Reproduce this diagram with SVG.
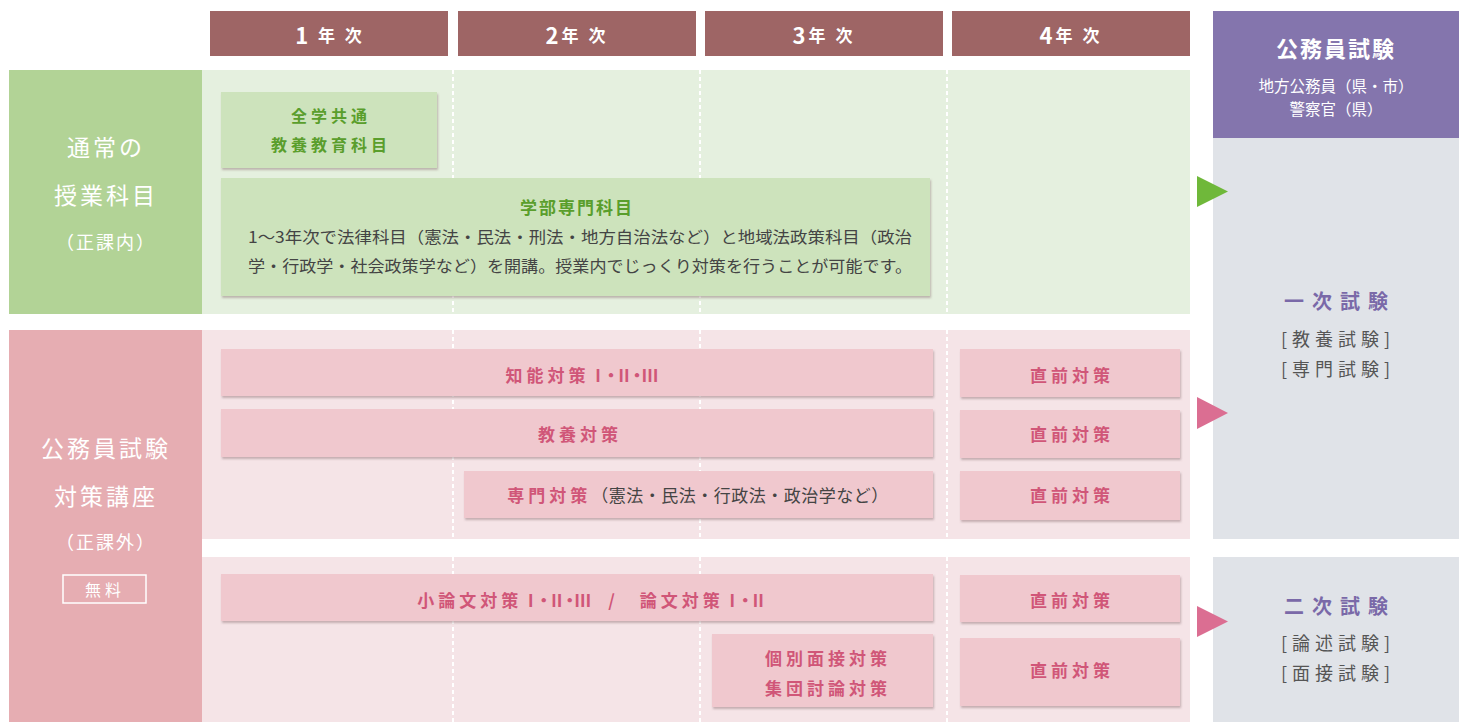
<svg xmlns="http://www.w3.org/2000/svg" width="1459" height="722" viewBox="0 0 1459 722">
<defs>
<style>
text{font-family:"Noto Sans CJK JP","Noto Sans",sans-serif;text-anchor:middle;dominant-baseline:central}
.tab{fill:#9e6565}
.tabt{fill:#fff;font-weight:700;font-size:17px;letter-spacing:3px}
.tabt .d{font-size:22px}
.lbl{fill:#fff;font-size:23px;letter-spacing:3px}
.lbls{fill:#fff;font-size:18px;letter-spacing:2px}
.gbox{fill:#cde3bc;filter:url(#sh)}
.gt{fill:#5a9e2c;font-weight:700;font-size:16px;letter-spacing:4px}
.pbox{fill:#f0c8ce;filter:url(#sh)}
.pt{fill:#d05678;font-weight:700;font-size:17px;letter-spacing:4px}
.rn{letter-spacing:-4px}
.body{fill:#444;font-size:16px}
.dash{stroke:#fff;stroke-width:2;stroke-dasharray:4 3;fill:none}
.ex{fill:#7a69a8;font-weight:700;font-size:20px;letter-spacing:8px}
.exs{fill:#555;font-size:18px;letter-spacing:5px}
</style>
<filter id="sh" x="-5%" y="-20%" width="110%" height="150%">
<feDropShadow dx="1" dy="2" stdDeviation="1.2" flood-color="#8a6a70" flood-opacity="0.45"/>
</filter>
</defs>
<rect width="1459" height="722" fill="#fff"/>

<g id="headers">
<rect class="tab" x="210" y="11" width="238" height="45"/>
<rect class="tab" x="458" y="11" width="238" height="45"/>
<rect class="tab" x="705" y="11" width="238" height="45"/>
<rect class="tab" x="952" y="11" width="238" height="45"/>
<text class="tabt" x="330" y="34"><tspan class="d">1</tspan> 年 次</text>
<text class="tabt" x="577" y="34"><tspan class="d">2</tspan>年 次</text>
<text class="tabt" x="824" y="34"><tspan class="d">3</tspan>年 次</text>
<text class="tabt" x="1071" y="34"><tspan class="d">4</tspan>年 次</text>
</g>

<g id="regular-band">
<rect x="202" y="70" width="988" height="244" fill="#e5f0df"/>
<rect x="9" y="70" width="193" height="244" fill="#b2d396"/>
<text class="lbl" x="106" y="146">通常の</text>
<text class="lbl" x="106" y="194">授業科目</text>
<text class="lbls" x="106" y="241">（正課内）</text>
</g>

<g id="prep-band">
<rect x="202" y="330" width="988" height="209" fill="#f5e4e7"/>
<rect x="202" y="557" width="988" height="165" fill="#f5e4e7"/>
<rect x="9" y="330" width="193" height="392" fill="#e6adb2"/>
<text class="lbl" x="106" y="447">公務員試験</text>
<text class="lbl" x="106" y="495">対策講座</text>
<text class="lbls" x="106" y="541">（正課外）</text>
<rect x="63" y="575" width="83" height="28" fill="none" stroke="#fff" stroke-width="1.5"/>
<text x="105" y="589" fill="#fff" font-size="16" letter-spacing="4">無料</text>
</g>

<g id="dividers">
<path class="dash" d="M453 70V314M700 70V314M947 70V314M453 330V539M700 330V539M947 330V539M453 557V722M700 557V722M947 557V722"/>
</g>

<g id="general-ed">
<rect class="gbox" x="221" y="92" width="216" height="76"/>
<text class="gt" x="331" y="115">全学共通</text>
<text class="gt" x="331" y="144">教養教育科目</text>
</g>

<g id="faculty">
<rect class="gbox" x="221" y="178" width="709" height="118"/>
<text x="577" y="206" fill="#5a9e2c" font-weight="700" font-size="17" letter-spacing="2">学部専門科目</text>
<text class="body" x="580" y="236" textLength="664" lengthAdjust="spacingAndGlyphs">1～3年次で法律科目（憲法・民法・刑法・地方自治法など）と地域法政策科目（政治</text>
<text class="body" x="580" y="265" textLength="664" lengthAdjust="spacingAndGlyphs">学・行政学・社会政策学など）を開講。授業内でじっくり対策を行うことが可能です。</text>
</g>

<g id="chino">
<rect class="pbox" x="221" y="349" width="712" height="47"/>
<text class="pt" x="580" y="374">知能対策<tspan class="rn">Ⅰ・Ⅱ・Ⅲ</tspan></text>
</g>
<g id="kyoyo">
<rect class="pbox" x="221" y="409" width="712" height="48"/>
<text class="pt" x="580" y="433">教養対策</text>
</g>
<g id="senmon">
<rect class="pbox" x="464" y="471" width="469" height="47"/>
<text x="698" y="494" font-size="17"><tspan fill="#d05678" font-weight="700" letter-spacing="4">専門対策</tspan><tspan fill="#444" letter-spacing="0.5">（憲法・民法・行政法・政治学など）</tspan></text>
</g>
<g id="ronbun">
<rect class="pbox" x="221" y="574" width="712" height="47"/>
<text class="pt" x="590" y="599">小論文対策<tspan class="rn">Ⅰ・Ⅱ・Ⅲ</tspan>　/　論文対策<tspan class="rn">Ⅰ・Ⅱ</tspan></text>
</g>
<g id="mensetsu">
<rect class="pbox" x="712" y="634" width="221" height="73"/>
<text class="pt" x="828" y="657">個別面接対策</text>
<text class="pt" x="828" y="687">集団討論対策</text>
</g>

<g id="chokuzen">
<rect class="pbox" x="960" y="349" width="220" height="48"/>
<text class="pt" x="1072" y="374">直前対策</text>
<rect class="pbox" x="960" y="410" width="220" height="48"/>
<text class="pt" x="1072" y="433">直前対策</text>
<rect class="pbox" x="960" y="471" width="220" height="49"/>
<text class="pt" x="1072" y="494">直前対策</text>
<rect class="pbox" x="960" y="575" width="220" height="47"/>
<text class="pt" x="1072" y="599">直前対策</text>
<rect class="pbox" x="960" y="638" width="220" height="68"/>
<text class="pt" x="1072" y="669">直前対策</text>
</g>

<g id="exam-header">
<rect x="1213" y="11" width="246" height="127" fill="#8475ad"/>
<text x="1336" y="47" fill="#fff" font-weight="700" font-size="22" letter-spacing="2">公務員試験</text>
<text x="1336" y="85" fill="#fff" font-size="15.5">地方公務員（県・市）</text>
<text x="1336" y="108" fill="#fff" font-size="15.5">警察官（県）</text>
</g>

<g id="first-exam">
<rect x="1213" y="138" width="246" height="401" fill="#e0e3e8"/>
<text class="ex" x="1340" y="300">一次試験</text>
<text class="exs" x="1338" y="338">[教養試験]</text>
<text class="exs" x="1338" y="368">[専門試験]</text>
</g>

<g id="second-exam">
<rect x="1213" y="557" width="246" height="165" fill="#e0e3e8"/>
<text class="ex" x="1340" y="605">二次試験</text>
<text class="exs" x="1338" y="642">[論述試験]</text>
<text class="exs" x="1338" y="672">[面接試験]</text>
</g>

<g id="connectors">
<polygon points="1197,176 1228,191.5 1197,207" fill="#6fb83a"/>
<polygon points="1197,397 1228,413 1197,429" fill="#db6e92"/>
<polygon points="1197,606 1228,621.5 1197,637" fill="#db6e92"/>
</g>
</svg>
